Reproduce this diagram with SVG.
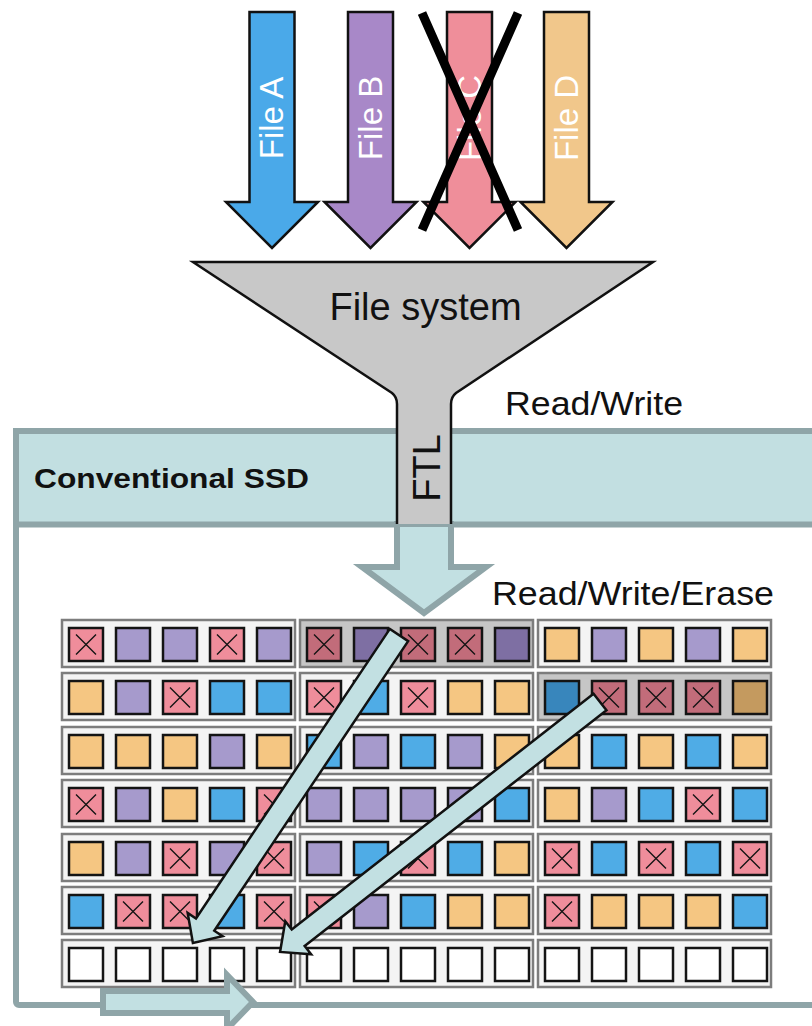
<svg xmlns="http://www.w3.org/2000/svg" xmlns:xlink="http://www.w3.org/1999/xlink" width="812" height="1026" viewBox="0 0 812 1026">
<style>
.ft{font-family:"Liberation Sans",Arial,sans-serif}
.farrow{stroke:#111;stroke-width:2.5;stroke-linejoin:miter}
.ftxt{fill:#fff;font-size:33px;text-anchor:middle}
.teal{fill:#c2e0e2;stroke:#8fa5a8;stroke-width:6;stroke-linejoin:miter}
.diag{fill:#c2e0e2;stroke:#111;stroke-width:2.5;stroke-linejoin:miter}
.blk{fill:#f4f4f4;stroke:#7d7d7d;stroke-width:2.5}
.hl{fill:#c6c6c6}
.P{fill:#a69acc}.O{fill:#f5c682}.B{fill:#4facE6}.X{fill:#ef8d9b}.W{fill:#ffffff}
.dP{fill:#7e6fa3}.dO{fill:#c49a5f}.dB{fill:#3886bc}.dX{fill:#c26c7a}
</style>
<defs>
<g id="c"><rect width="34" height="33" stroke="#141414" stroke-width="2.5"/></g>
<g id="x"><rect width="34" height="33" stroke="#141414" stroke-width="2.5"/><path d="M7,6.5 L27,26.5 M27,6.5 L7,26.5" stroke="#141414" stroke-width="1.4" fill="none"/></g>
</defs>

<g id="file-a">
<path class="farrow" fill="#4aa9e9" d="M249.5,12 H294.5 V202 H318 L272,248 L226,202 H249.5 Z"/>
<text class="ft ftxt" transform="translate(283,118) rotate(-90)">File A</text>
</g>
<g id="file-b">
<path class="farrow" fill="#a888c8" d="M348,12 H393 V202 H416.5 L370.5,248 L324.5,202 H348 Z"/>
<text class="ft ftxt" transform="translate(381.5,118) rotate(-90)">File B</text>
</g>
<g id="file-c">
<path class="farrow" fill="#ef8e9a" d="M447,12 H492 V202 H515.5 L469.5,248 L423.5,202 H447 Z"/>
<text class="ft ftxt" transform="translate(480.5,118) rotate(-90)">File C</text>
<path d="M422,13 L518,230 M518,13 L422,230" stroke="#000" stroke-width="9" fill="none"/>
</g>
<g id="file-d">
<path class="farrow" fill="#f1c78b" d="M544,12 H589 V202 H612.5 L566.5,248 L520.5,202 H544 Z"/>
<text class="ft ftxt" transform="translate(577.5,118) rotate(-90)">File D</text>
</g>

<g id="ssd">
<rect x="16" y="431" width="820" height="574" fill="#fff" stroke="#8fa5a8" stroke-width="6" rx="3"/>
<rect x="16" y="431" width="820" height="93.5" fill="#c2dfe1" stroke="#8fa5a8" stroke-width="6"/>
<text class="ft" x="34" y="488" font-size="28" font-weight="bold" fill="#111" textLength="275" lengthAdjust="spacingAndGlyphs">Conventional SSD</text>
</g>

<g id="ftl-arrow">
<path class="teal" d="M397,524 V567 H362 L424,613 L486,567 H451 V524 Z"/>
</g>

<g id="file-system">
<path d="M193,262 H653 L456,393 Q451,397 451,404 V524 H397 V404 Q397,397 392,393 Z" fill="#c8c8c8"/>
<path d="M397,524 V404 Q397,397 392,393 L193,262 H653 L456,393 Q451,397 451,404 V524" fill="none" stroke="#111" stroke-width="2.5"/>
<text class="ft" x="425.5" y="320" font-size="38" text-anchor="middle" fill="#111">File system</text>
<text class="ft" transform="translate(440,468) rotate(-90)" font-size="38" text-anchor="middle" fill="#111">FTL</text>
</g>

<g id="labels">
<text class="ft" x="505" y="415" font-size="33" fill="#111" textLength="178" lengthAdjust="spacingAndGlyphs">Read/Write</text>
<text class="ft" x="492" y="605" font-size="33" fill="#111" textLength="282" lengthAdjust="spacingAndGlyphs">Read/Write/Erase</text>
</g>

<g id="flash">
<g id="blocks">
<rect class="blk" x="62" y="620" width="233" height="47"/><rect class="blk hl" x="300" y="620" width="233" height="47"/><rect class="blk" x="538" y="620" width="233" height="47"/>
<rect class="blk" x="62" y="673" width="233" height="47"/><rect class="blk" x="300" y="673" width="233" height="47"/><rect class="blk hl" x="538" y="673" width="233" height="47"/>
<rect class="blk" x="62" y="727" width="233" height="47"/><rect class="blk" x="300" y="727" width="233" height="47"/><rect class="blk" x="538" y="727" width="233" height="47"/>
<rect class="blk" x="62" y="780" width="233" height="47"/><rect class="blk" x="300" y="780" width="233" height="47"/><rect class="blk" x="538" y="780" width="233" height="47"/>
<rect class="blk" x="62" y="834" width="233" height="47"/><rect class="blk" x="300" y="834" width="233" height="47"/><rect class="blk" x="538" y="834" width="233" height="47"/>
<rect class="blk" x="62" y="887" width="233" height="47"/><rect class="blk" x="300" y="887" width="233" height="47"/><rect class="blk" x="538" y="887" width="233" height="47"/>
<rect class="blk" x="62" y="940" width="233" height="47"/><rect class="blk" x="300" y="940" width="233" height="47"/><rect class="blk" x="538" y="940" width="233" height="47"/>
</g>
<g id="row1">
<use href="#x" class="X" x="69" y="628"/><use href="#c" class="P" x="116" y="628"/><use href="#c" class="P" x="163" y="628"/><use href="#x" class="X" x="210" y="628"/><use href="#c" class="P" x="257" y="628"/>
<use href="#x" class="dX" x="307" y="628"/><use href="#c" class="dP" x="354" y="628"/><use href="#x" class="dX" x="401" y="628"/><use href="#x" class="dX" x="448" y="628"/><use href="#c" class="dP" x="495" y="628"/>
<use href="#c" class="O" x="545" y="628"/><use href="#c" class="P" x="592" y="628"/><use href="#c" class="O" x="639" y="628"/><use href="#c" class="P" x="686" y="628"/><use href="#c" class="O" x="733" y="628"/>
</g>
<g id="row2">
<use href="#c" class="O" x="69" y="681"/><use href="#c" class="P" x="116" y="681"/><use href="#x" class="X" x="163" y="681"/><use href="#c" class="B" x="210" y="681"/><use href="#c" class="B" x="257" y="681"/>
<use href="#x" class="X" x="307" y="681"/><use href="#c" class="B" x="354" y="681"/><use href="#x" class="X" x="401" y="681"/><use href="#c" class="O" x="448" y="681"/><use href="#c" class="O" x="495" y="681"/>
<use href="#c" class="dB" x="545" y="681"/><use href="#x" class="dX" x="592" y="681"/><use href="#x" class="dX" x="639" y="681"/><use href="#x" class="dX" x="686" y="681"/><use href="#c" class="dO" x="733" y="681"/>
</g>
<g id="row3">
<use href="#c" class="O" x="69" y="735"/><use href="#c" class="O" x="116" y="735"/><use href="#c" class="O" x="163" y="735"/><use href="#c" class="P" x="210" y="735"/><use href="#c" class="O" x="257" y="735"/>
<use href="#c" class="B" x="307" y="735"/><use href="#c" class="P" x="354" y="735"/><use href="#c" class="B" x="401" y="735"/><use href="#c" class="P" x="448" y="735"/><use href="#c" class="O" x="495" y="735"/>
<use href="#c" class="O" x="545" y="735"/><use href="#c" class="B" x="592" y="735"/><use href="#c" class="O" x="639" y="735"/><use href="#c" class="B" x="686" y="735"/><use href="#c" class="O" x="733" y="735"/>
</g>
<g id="row4">
<use href="#x" class="X" x="69" y="788"/><use href="#c" class="P" x="116" y="788"/><use href="#c" class="O" x="163" y="788"/><use href="#c" class="B" x="210" y="788"/><use href="#x" class="X" x="257" y="788"/>
<use href="#c" class="P" x="307" y="788"/><use href="#c" class="P" x="354" y="788"/><use href="#c" class="P" x="401" y="788"/><use href="#c" class="P" x="448" y="788"/><use href="#c" class="B" x="495" y="788"/>
<use href="#c" class="O" x="545" y="788"/><use href="#c" class="P" x="592" y="788"/><use href="#c" class="B" x="639" y="788"/><use href="#x" class="X" x="686" y="788"/><use href="#c" class="B" x="733" y="788"/>
</g>
<g id="row5">
<use href="#c" class="O" x="69" y="842"/><use href="#c" class="P" x="116" y="842"/><use href="#x" class="X" x="163" y="842"/><use href="#c" class="P" x="210" y="842"/><use href="#x" class="X" x="257" y="842"/>
<use href="#c" class="P" x="307" y="842"/><use href="#c" class="B" x="354" y="842"/><use href="#x" class="X" x="401" y="842"/><use href="#c" class="B" x="448" y="842"/><use href="#c" class="O" x="495" y="842"/>
<use href="#x" class="X" x="545" y="842"/><use href="#c" class="B" x="592" y="842"/><use href="#x" class="X" x="639" y="842"/><use href="#c" class="B" x="686" y="842"/><use href="#x" class="X" x="733" y="842"/>
</g>
<g id="row6">
<use href="#c" class="B" x="69" y="895"/><use href="#x" class="X" x="116" y="895"/><use href="#x" class="X" x="163" y="895"/><use href="#c" class="B" x="210" y="895"/><use href="#x" class="X" x="257" y="895"/>
<use href="#x" class="X" x="307" y="895"/><use href="#c" class="P" x="354" y="895"/><use href="#c" class="B" x="401" y="895"/><use href="#c" class="O" x="448" y="895"/><use href="#c" class="O" x="495" y="895"/>
<use href="#x" class="X" x="545" y="895"/><use href="#c" class="O" x="592" y="895"/><use href="#c" class="O" x="639" y="895"/><use href="#c" class="O" x="686" y="895"/><use href="#c" class="B" x="733" y="895"/>
</g>
<g id="row7">
<use href="#c" class="W" x="69" y="948"/><use href="#c" class="W" x="116" y="948"/><use href="#c" class="W" x="163" y="948"/><use href="#c" class="W" x="210" y="948"/><use href="#c" class="W" x="257" y="948"/>
<use href="#c" class="W" x="307" y="948"/><use href="#c" class="W" x="354" y="948"/><use href="#c" class="W" x="401" y="948"/><use href="#c" class="W" x="448" y="948"/><use href="#c" class="W" x="495" y="948"/>
<use href="#c" class="W" x="545" y="948"/><use href="#c" class="W" x="592" y="948"/><use href="#c" class="W" x="639" y="948"/><use href="#c" class="W" x="686" y="948"/><use href="#c" class="W" x="733" y="948"/>
</g>
</g>

<g id="connectors">
<path class="diag" transform="translate(399,635) rotate(123.8)" d="M0,-11 H348.5 V-21 L370.5,0 L348.5,21 V11 H0 Z"/>
<path class="diag" transform="translate(600,702) rotate(142)" d="M0,-10.5 H383 V-21 L406,0 L383,21 V10.5 H0 Z"/>
<path class="teal" d="M103,991 H227 V975 L253,1002 L227,1029 V1013 H103 Z"/>
</g>
</svg>
